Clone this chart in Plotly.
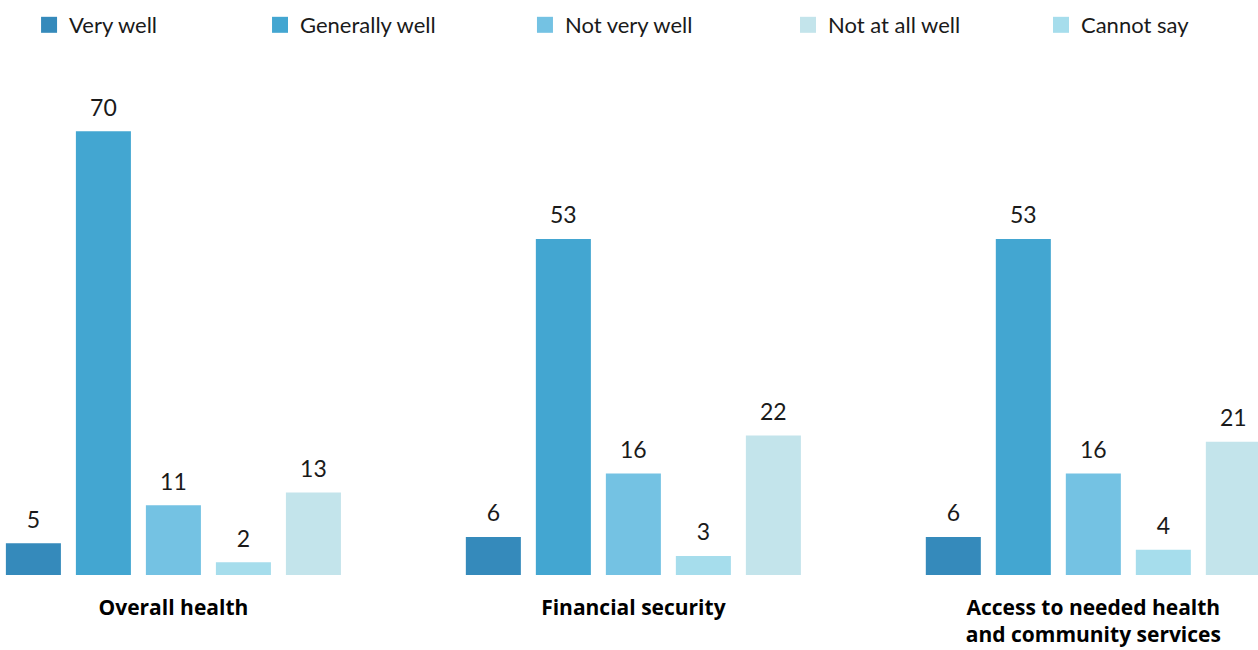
import plotly.graph_objects as go

categories = ["Overall health", "Financial security", "Access to needed health<br>and community services"]
legend_names = ["Very well", "Generally well", "Not very well", "Not at all well", "Cannot say"]
legend_colors = ["#358abb", "#43a6d1", "#74c2e3", "#c3e4eb", "#a6ddec"]

# bars as drawn left to right within each group
bar_names = ["Very well", "Generally well", "Not very well", "Cannot say", "Not at all well"]
bar_colors = ["#358abb", "#43a6d1", "#74c2e3", "#a6ddec", "#c3e4eb"]
very_well = [5, 6, 6]
generally_well = [70, 53, 53]
not_very_well = [11, 16, 16]
cannot_say = [2, 3, 4]
not_at_all_well = [13, 22, 21]
bar_values = [very_well, generally_well, not_very_well, cannot_say, not_at_all_well]

FONT = "Lato, 'Open Sans', sans-serif"
BARGAP = 0.239

fig = go.Figure()
for name, color, vals in zip(bar_names, bar_colors, bar_values):
    fig.add_trace(go.Bar(
        x=categories, y=vals, name=name, marker_color=color, marker_line_width=0,
        showlegend=False, hoverinfo="x+y+name", offsetgroup=name,
    ))
# value labels, grouped like the bars
for name, vals in zip(bar_names, bar_values):
    fig.add_trace(go.Scatter(
        x=categories, y=vals, mode="markers+text", text=[str(v) for v in vals],
        textposition="top center", marker=dict(size=14, opacity=0),
        textfont=dict(size=23, color="#1a1a1a", family=FONT),
        cliponaxis=False, showlegend=False, hoverinfo="skip", offsetgroup=name,
    ))

# legend entries (square swatches), one small legend per entry
legend_x = [0.0231, 0.2067, 0.4173, 0.6264, 0.8275]
legend_ids = ["legend", "legend2", "legend3", "legend4", "legend5"]
for name, color, lid in zip(legend_names, legend_colors, legend_ids):
    fig.add_trace(go.Scatter(
        x=[None], y=[None], mode="markers", name=name, legend=lid,
        marker=dict(symbol="square", size=19, color=color),
    ))

legend_style = dict(
    orientation="h", xanchor="left", y=0.9565, yanchor="middle",
    font=dict(size=22, color="#1a1a1a", family=FONT), itemwidth=30,
    bgcolor="rgba(0,0,0,0)",
)
layout_legends = {lid: dict(x=lx, **legend_style) for lid, lx in zip(legend_ids, legend_x)}

fig.update_layout(
    width=1258, height=650,
    margin=dict(l=0, r=0, t=0, b=75, autoexpand=False),
    paper_bgcolor="white", plot_bgcolor="white",
    barmode="group", bargap=BARGAP, bargroupgap=0.214,
    scattermode="group", scattergap=BARGAP,
    font=dict(family=FONT, color="#1a1a1a"),
    showlegend=True,
    xaxis=dict(
        type="category", range=[-0.377, 2.358], showgrid=False, zeroline=False,
        showline=False, ticks="", ticklabelstandoff=18, automargin=False,
        tickfont=dict(size=21, color="black", family="'Open Sans', sans-serif", weight="bold"),
    ),
    yaxis=dict(range=[0, 78.07], domain=[0, 0.8609], visible=False,
               showgrid=False, zeroline=False, automargin=False),
    **layout_legends,
)

fig.write_html("out.html", config={"displayModeBar": False},
               post_script="document.body.style.margin='0';")
